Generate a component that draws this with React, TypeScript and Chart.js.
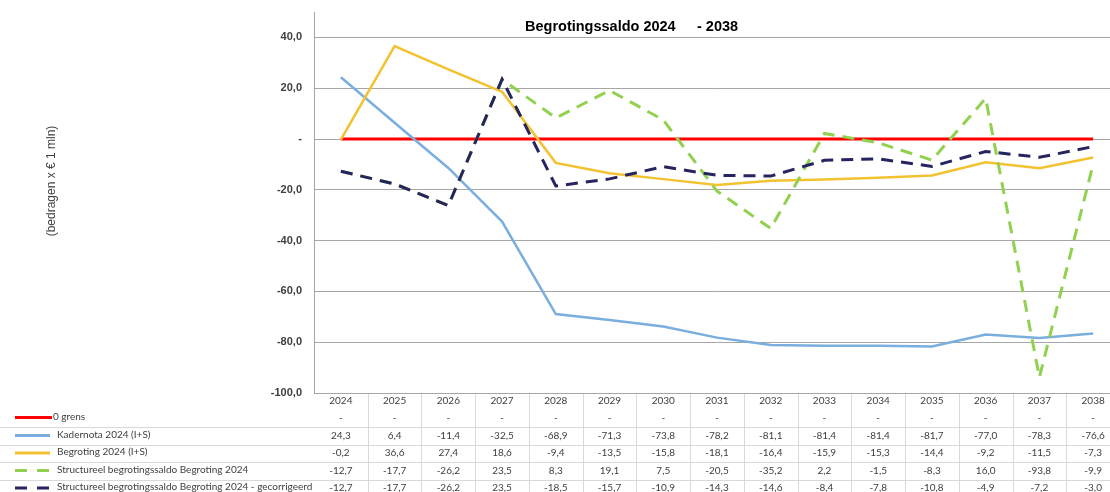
import React, { useEffect, useRef } from "react";
import { Chart, registerables } from "chart.js";

Chart.register(...registerables);

const years = ["2024", "2025", "2026", "2027", "2028", "2029", "2030", "2031", "2032", "2033", "2034", "2035", "2036", "2037", "2038"];

const nulGrens = [0, 0, 0, 0, 0, 0, 0, 0, 0, 0, 0, 0, 0, 0, 0];
const kadernota = [24.3, 6.4, -11.4, -32.5, -68.9, -71.3, -73.8, -78.2, -81.1, -81.4, -81.4, -81.7, -77.0, -78.3, -76.6];
const begroting = [-0.2, 36.6, 27.4, 18.6, -9.4, -13.5, -15.8, -18.1, -16.4, -15.9, -15.3, -14.4, -9.2, -11.5, -7.3];
const structureel = [-12.7, -17.7, -26.2, 23.5, 8.3, 19.1, 7.5, -20.5, -35.2, 2.2, -1.5, -8.3, 16.0, -93.8, -9.9];
const gecorrigeerd = [-12.7, -17.7, -26.2, 23.5, -18.5, -15.7, -10.9, -14.3, -14.6, -8.4, -7.8, -10.8, -4.9, -7.2, -3.0];

const seriesNames = [
  "0 grens",
  "Kadernota 2024 (I+S)",
  "Begroting 2024 (I+S)",
  "Structureel begrotingssaldo Begroting 2024",
  "Structureel begrotingssaldo Begroting 2024 - gecorrigeerd",
];

const yTicks = [-100, -80, -60, -40, -20, 0, 20, 40];

const titleLeft = "Begrotingssaldo 2024";
const titleRight = "- 2038";
const yTitle = "(bedragen x \u20ac 1 mln)";

const fmt = (v: number) => (v === 0 ? "-" : v.toFixed(1).replace(".", ","));

const TABLE_FONT = "10px Lato, 'Open Sans', sans-serif";
const TABLE_COLOR = "#404040";

const tablePlugin = {
  id: "dataTable",
  afterDraw(chart: any) {
    const ctx: CanvasRenderingContext2D = chart.ctx;
    const area = chart.chartArea;
    const xs = chart.scales.x;
    const n = years.length;
    const colW = (area.right - area.left) / n;
    const datasets = chart.data.datasets;

    ctx.save();
    // title
    ctx.fillStyle = "#000";
    ctx.font = "bold 14.5px 'Liberation Sans', Arial, sans-serif";
    ctx.textAlign = "left";
    ctx.textBaseline = "middle";
    ctx.fillText(titleLeft, 525, 27);
    ctx.fillText(titleRight, 697, 27);

    // y axis title
    ctx.save();
    ctx.translate(52, 181);
    ctx.rotate(-Math.PI / 2);
    ctx.font = "12px 'Liberation Sans', Arial, sans-serif";
    ctx.fillStyle = "#404040";
    ctx.textAlign = "center";
    ctx.textBaseline = "middle";
    ctx.fillText(yTitle, 0, 0);
    ctx.restore();

    // table grid
    const bottom = 492;
    const rowLines = [427, 444.5, 462, 479.5];
    const rowCenters = [417.5, 435.5, 453, 470.5, 488];
    ctx.strokeStyle = "#d9d9d9";
    ctx.lineWidth = 1;
    for (let i = 1; i <= n; i++) {
      const x = Math.round(area.left + i * colW) + 0.5;
      ctx.beginPath();
      ctx.moveTo(x, area.bottom);
      ctx.lineTo(x, bottom);
      ctx.stroke();
    }
    rowLines.forEach((y) => {
      ctx.beginPath();
      ctx.moveTo(0, Math.round(y) + 0.5);
      ctx.lineTo(area.right, Math.round(y) + 0.5);
      ctx.stroke();
    });
    ctx.strokeStyle = "#a6a6a6";
    ctx.beginPath();
    ctx.moveTo(area.left, Math.round(area.bottom) + 0.5);
    ctx.lineTo(area.right, Math.round(area.bottom) + 0.5);
    ctx.stroke();

    // year labels
    ctx.font = TABLE_FONT;
    ctx.fillStyle = TABLE_COLOR;
    ctx.textAlign = "center";
    ctx.textBaseline = "middle";
    years.forEach((yr, i) => {
      ctx.fillText(yr, xs.getPixelForValue(i), 400.5);
    });

    // rows
    datasets.forEach((ds: any, r: number) => {
      const cy = rowCenters[r];
      // legend key
      ctx.save();
      ctx.strokeStyle = ds.borderColor;
      ctx.lineWidth = 3;
      ctx.setLineDash(ds.borderDash && ds.borderDash.length ? [12, 10] : []);
      ctx.beginPath();
      ctx.moveTo(15, cy);
      ctx.lineTo(r === 0 ? 52 : 50, cy);
      ctx.stroke();
      ctx.restore();
      ctx.font = TABLE_FONT;
      ctx.fillStyle = TABLE_COLOR;
      ctx.textAlign = "left";
      ctx.fillText(seriesNames[r], r === 0 ? 53 : 57, cy - 1);
      ctx.textAlign = "center";
      (ds.data as number[]).forEach((v, i) => {
        ctx.fillText(fmt(v), xs.getPixelForValue(i), cy);
      });
    });
    ctx.restore();
  },
};

export default function App() {
  const ref = useRef<HTMLCanvasElement | null>(null);
  useEffect(() => {
    if (!ref.current) return;
    const chart = new Chart(ref.current, {
      type: "line",
      data: {
        labels: years,
        datasets: [
          { label: seriesNames[0], data: nulGrens, borderColor: "#ff0000", borderWidth: 3, order: 5 },
          { label: seriesNames[1], data: kadernota, borderColor: "#7aaede", borderWidth: 2.5, order: 4 },
          { label: seriesNames[2], data: begroting, borderColor: "#f2c230", borderWidth: 2.5, order: 3 },
          { label: seriesNames[3], data: structureel, borderColor: "#92d050", borderWidth: 3, borderDash: [12, 8], order: 2 },
          { label: seriesNames[4], data: gecorrigeerd, borderColor: "#26255f", borderWidth: 3, borderDash: [12, 8], order: 1 },
        ],
      },
      options: {
        responsive: false,
        animation: false,
        devicePixelRatio: 1,
        layout: { padding: { top: 12, bottom: 99, left: 0, right: 0 } },
        elements: {
          point: { radius: 0, hoverRadius: 0 },
          line: { tension: 0, fill: false, borderCapStyle: "butt" },
        },
        plugins: {
          legend: { display: false },
          title: { display: false },
          tooltip: { enabled: false },
        },
        scales: {
          x: {
            type: "category",
            display: false,
            offset: true,
            grid: { display: false },
          },
          y: {
            min: -100,
            max: 50,
            afterBuildTicks: (s: any) => {
              s.ticks = yTicks.map((v) => ({ value: v }));
            },
            afterFit: (s: any) => {
              s.width = 314;
            },
            grid: { color: "#a6a6a6", lineWidth: 1, drawTicks: true, tickLength: 12, tickColor: "rgba(0,0,0,0)" },
            border: { display: true, color: "#a6a6a6", width: 1 },
            ticks: {
              padding: 0,
              color: "#404040",
              font: { family: "'Liberation Sans', Arial, sans-serif", size: 11, weight: "bold" },
              callback: (v: any) => fmt(Number(v)),
            },
          },
        },
      },
      plugins: [tablePlugin],
    } as any);
    return () => chart.destroy();
  }, []);

  return (
    <div style={{ position: "absolute", left: 0, top: 0, width: 1110, height: 492, overflow: "hidden", background: "#fff" }}>
      <canvas ref={ref} width={1120} height={492} style={{ display: "block" }} />
    </div>
  );
}
